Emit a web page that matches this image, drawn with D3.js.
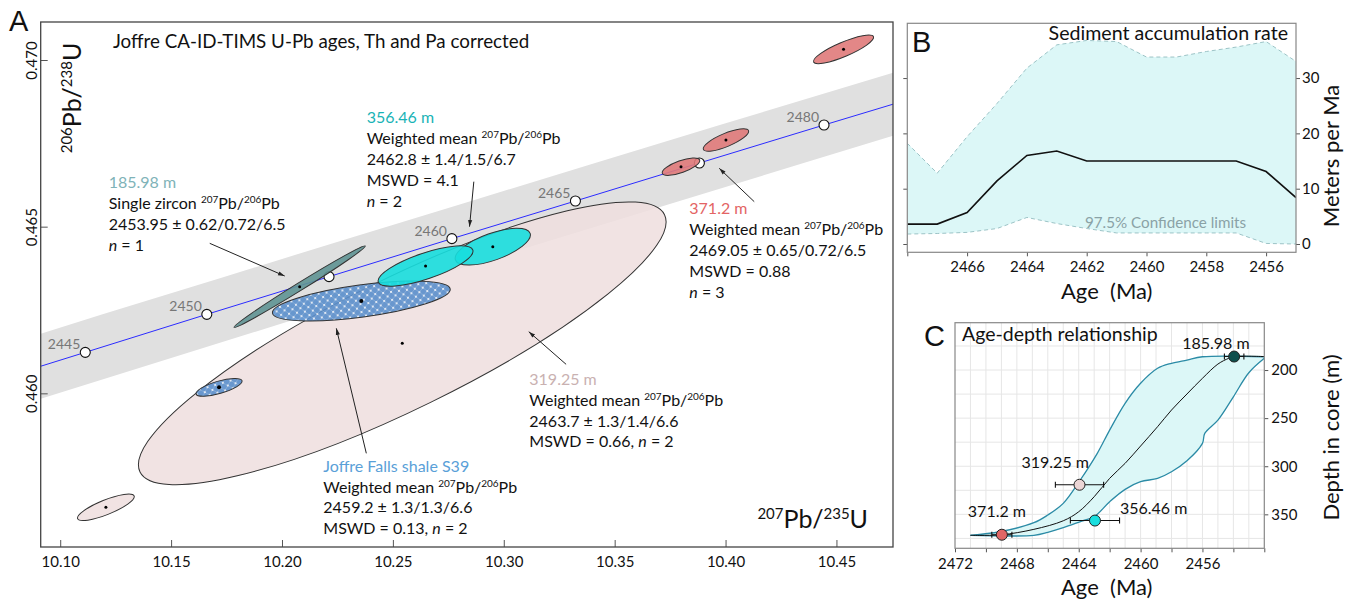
<!DOCTYPE html>
<html>
<head>
<meta charset="utf-8">
<script src="https://cdn.jsdelivr.net/npm/d3@7"></script>
<style>
body { margin: 0; background: #fff; }
svg { font-family: Lato, 'Open Sans', sans-serif; }
.tick text { font-family: Lato, 'Open Sans', sans-serif; font-size: 15px; fill: #111; }
.tick line { stroke: #555; }
.letter { font-family: 'Liberation Sans', Arial, sans-serif; font-size: 29px; fill: #111; }
</style>
</head>
<body>
<svg width="1354" height="600"></svg>
<script>
// ---------- panel A : concordia reference points ----------
var concAge = [2435, 2445, 2450, 2455, 2460, 2465, 2470, 2475, 2490];
var concX = [10.0024, 10.1113, 10.1661, 10.2212, 10.2766, 10.3323, 10.3882, 10.4444, 10.6148];
var concY = [0.45897, 0.46123, 0.46237, 0.46350, 0.46464, 0.46577, 0.46691, 0.46805, 0.47147];
var concLabel = [null, '2445', '2450', '', '2460', '2465', '', '2480', null];
var bandHalf = 0.047;

// error ellipses: centre, end of major axis, minor/major ratio
var ellSample = ['p319', 'p319', 's39', 's39', 'g186', 'c356', 'c356', 'r371', 'r371', 'r371'];
var ellCx = [10.25423, 10.12059, 10.23577, 10.17162, 10.20797, 10.29505, 10.26473, 10.37991, 10.40018, 10.45320];
var ellCy = [0.46150, 0.45658, 0.46277, 0.46018, 0.46320, 0.46440, 0.46382, 0.46680, 0.46760, 0.47032];
var ellEx = [10.37248, 10.13333, 10.27586, 10.18198, 10.23757, 10.31189, 10.28604, 10.38833, 10.41036, 10.46670];
var ellEy = [0.46536, 0.45692, 0.46313, 0.46038, 0.46442, 0.46480, 0.46430, 0.46700, 0.46788, 0.47070];
var ellRatio = [0.224, 0.24, 0.18, 0.26, 0.05, 0.34, 0.26, 0.30, 0.27, 0.22];

var xTicksA = [10.10, 10.15, 10.20, 10.25, 10.30, 10.35, 10.40, 10.45];
var yTicksA = [0.460, 0.465, 0.470];

// ---------- panel B : sediment accumulation rate ----------
var rateAge = [2468, 2467, 2466, 2465, 2464, 2463, 2462, 2461, 2460, 2459, 2458, 2457, 2456, 2455];
var rateMedian = [3.6, 3.6, 5.7, 11.4, 16.0, 16.8, 15.0, 15.0, 15.0, 15.0, 15.0, 15.0, 13.1, 8.4];
var rateUpper = [18.2, 12.8, 19.4, 25.4, 31.8, 36.0, 36.8, 36.6, 33.8, 33.8, 34.8, 35.6, 36.6, 33.0];
var rateLower = [1.8, 1.9, 2.1, 2.8, 4.8, 3.7, 2.8, 2.0, 2.0, 2.0, 2.0, 2.0, 0.1, 0.0];

// ---------- panel C : age-depth model ----------
var medAge = [2471.0, 2469.0, 2466.9, 2465.0, 2464.0, 2463.0, 2462.0, 2461.0, 2460.0, 2458.9, 2458.0, 2457.0, 2456.0, 2455.0, 2454.3, 2453.95, 2452.0];
var medDepth = [371.8, 371.2, 365.6, 356.7, 347.3, 331.7, 312.6, 297.0, 279.0, 258.9, 241.6, 224.9, 208.6, 193.8, 187.8, 186.0, 186.0];
var upAge = [2471.0, 2469.1, 2466.9, 2466.0, 2465.0, 2463.9, 2462.8, 2462.0, 2461.0, 2460.0, 2458.9, 2458.0, 2457.0, 2456.0, 2452.0];
var upDepth = [371.8, 368.1, 358.7, 350.7, 338.6, 314.3, 286.6, 262.4, 234.6, 213.8, 198.2, 193.0, 189.6, 186.2, 186.2];
var loAge = [2471.0, 2466.9, 2466.0, 2465.0, 2463.8, 2463.0, 2462.0, 2461.0, 2460.0, 2458.9, 2458.0, 2457.0, 2456.0, 2455.85, 2455.0, 2454.0, 2453.0, 2452.0];
var loDepth = [371.8, 371.8, 368.7, 363.9, 357.0, 352.5, 336.9, 324.0, 316.1, 312.6, 305.7, 294.3, 276.2, 265.8, 252.0, 227.8, 202.8, 187.8];

var sampDepth = [185.98, 319.25, 356.46, 371.2];
var sampAge = [2453.95, 2463.95, 2462.95, 2468.97];
var sampErr = [0.63, 1.56, 1.59, 0.65];
var sampLabel = ['185.98 m', '319.25 m', '356.46 m', '371.2 m'];

// ---------- styles ----------
var ellFill = {p319: '#efdede', s39: 'url(#hatch)', g186: '#5f9494', c356: '#17dede', r371: '#e07a7a'};
var sampFill = ['#0f4f4c', '#ecd5d5', '#19dede', '#e06666'];

var svg = d3.select('svg');
var defs = svg.append('defs');

var hatch = defs.append('pattern').attr('id', 'hatch')
	.attr('width', 8).attr('height', 8).attr('patternUnits', 'userSpaceOnUse');
hatch.append('rect').attr('width', 8).attr('height', 8).attr('fill', '#5a8fcc');
hatch.append('path').attr('d', 'M0,0L8,8M8,0L0,8').attr('stroke', '#93b6de').attr('stroke-width', 0.6);
[[0, 0], [8, 0], [0, 8], [8, 8], [4, 4]].forEach(function(p) {
	hatch.append('circle').attr('cx', p[0]).attr('cy', p[1]).attr('r', 1).attr('fill', '#fff');
});

defs.append('marker').attr('id', 'arrow')
	.attr('viewBox', '0 0 8 6').attr('refX', 8).attr('refY', 3)
	.attr('markerWidth', 7).attr('markerHeight', 5).attr('orient', 'auto')
	.append('path').attr('d', 'M0,0.5L8,3L0,5.5Z').attr('fill', '#222');

// rich text: ^123 = superscript, *x* = italic
function richText(sel, str, size, supSize, rise) {
	var parts = str.split(/(\^\d+|\*[^*]+\*)/).filter(function(p) { return p.length; });
	var shifted = false;
	parts.forEach(function(p) {
		var ts = sel.append('tspan');
		if (p[0] === '^') {
			ts.attr('dy', -rise).style('font-size', supSize + 'px').text(p.slice(1));
			shifted = true;
		} else {
			if (shifted) { ts.attr('dy', rise); shifted = false; }
			if (p[0] === '*') ts.style('font-style', 'italic').text(p.slice(1, -1));
			else ts.text(p);
		}
	});
	sel.style('font-size', size + 'px');
	return sel;
}

// ================= PANEL A =================
var xA = d3.scaleLinear().domain([10.0912, 10.4755]).range([40.7, 893]);
var yA = d3.scaleLinear().domain([0.45539, 0.47114]).range([547, 22]);

defs.append('clipPath').attr('id', 'clipA').append('rect')
	.attr('x', 40.7).attr('y', 22).attr('width', 852.3).attr('height', 525);

var gA = svg.append('g');
var plotA = gA.append('g').attr('clip-path', 'url(#clipA)');

var conc = concAge.map(function(a, i) {
	return {age: a, x: concX[i], y: concY[i], label: concLabel[i]};
});

// decay-constant uncertainty band
var bandPts = conc.map(function(d) { return [xA(d.x - bandHalf), yA(d.y)]; })
	.concat(conc.slice().reverse().map(function(d) { return [xA(d.x + bandHalf), yA(d.y)]; }));
plotA.append('path').attr('d', 'M' + bandPts.join('L') + 'Z').attr('fill', '#e0e0e0');

var ells = ellSample.map(function(s, i) {
	var cx = xA(ellCx[i]), cy = yA(ellCy[i]);
	var ex = xA(ellEx[i]), ey = yA(ellEy[i]);
	var a = Math.hypot(ex - cx, ey - cy);
	return {s: s, cx: cx, cy: cy, a: a, b: a * ellRatio[i],
		ang: Math.atan2(ey - cy, ex - cx) * 180 / Math.PI};
});

function drawEll(list) {
	plotA.selectAll(null).data(list).enter().append('ellipse')
		.attr('cx', function(d) { return d.cx; })
		.attr('cy', function(d) { return d.cy; })
		.attr('rx', function(d) { return d.a; })
		.attr('ry', function(d) { return d.b; })
		.attr('transform', function(d) { return 'rotate(' + d.ang + ',' + d.cx + ',' + d.cy + ')'; })
		.attr('fill', function(d) { return ellFill[d.s]; })
		.attr('fill-opacity', function(d) { return d.s === 'p319' ? 0.85 : 0.9; })
		.attr('stroke', '#333').attr('stroke-width', 1);
}

drawEll(ells.filter(function(d) { return d.s === 'p319'; }));

// concordia curve
plotA.append('path')
	.attr('d', d3.line().x(function(d) { return xA(d.x); }).y(function(d) { return yA(d.y); })(conc))
	.attr('fill', 'none').attr('stroke', '#2b2bff').attr('stroke-width', 1);

var marks = conc.filter(function(d) { return d.label !== null; });
plotA.selectAll(null).data(marks).enter().append('circle')
	.attr('cx', function(d) { return xA(d.x); })
	.attr('cy', function(d) { return yA(d.y); })
	.attr('r', 5).attr('fill', '#fff').attr('stroke', '#111').attr('stroke-width', 1.1);

drawEll(ells.filter(function(d) { return d.s !== 'p319'; }));

plotA.selectAll(null).data(ells).enter().append('circle')
	.attr('cx', function(d) { return d.cx; })
	.attr('cy', function(d) { return d.cy; })
	.attr('r', function(d) { return d.s === 's39' ? 2 : 1.5; })
	.attr('fill', '#000');

plotA.selectAll(null).data(marks.filter(function(d) { return d.label; })).enter().append('text')
	.attr('x', function(d) { return xA(d.x) - 5; })
	.attr('y', function(d) { return yA(d.y) - 3; })
	.attr('text-anchor', 'end').style('font-size', '14px').attr('fill', '#777')
	.text(function(d) { return d.label; });

// axes A
gA.append('g').attr('transform', 'translate(0,547)')
	.call(d3.axisBottom(xA).tickValues(xTicksA).tickFormat(d3.format('.2f'))
		.tickSizeInner(-7).tickSizeOuter(0).tickPadding(9))
	.call(function(g) { g.select('.domain').remove(); });

gA.append('g').attr('transform', 'translate(40.7,0)')
	.call(d3.axisLeft(yA).tickValues(yTicksA).tickFormat(d3.format('.3f'))
		.tickSizeInner(-7).tickSizeOuter(0))
	.call(function(g) { g.select('.domain').remove(); })
	.selectAll('.tick text')
	.attr('transform', 'rotate(-90)').attr('x', 0).attr('y', -4).attr('dy', 0)
	.attr('text-anchor', 'middle');

gA.append('rect').attr('x', 40.7).attr('y', 22).attr('width', 852.3).attr('height', 525)
	.attr('fill', 'none').attr('stroke', '#444').attr('stroke-width', 1.3);

gA.append('text').attr('class', 'letter').attr('x', 9).attr('y', 31).text('A');
gA.append('text').attr('x', 113).attr('y', 48).style('font-size', '18.8px').attr('fill', '#111')
	.text('Joffre CA-ID-TIMS U-Pb ages, Th and Pa corrected');

richText(gA.append('text').attr('transform', 'translate(81,98) rotate(-90)').attr('text-anchor', 'middle').attr('fill', '#111'),
	'^206Pb/^238U', 25, 15, 9);
richText(gA.append('text').attr('x', 868).attr('y', 528).attr('text-anchor', 'end').attr('fill', '#111'),
	'^207Pb/^235U', 25, 15, 9);

// annotations
var notes = [
	{x: 108.7, y: 188.3, c: '#7fb3b8', lines: ['185.98 m', 'Single zircon ^207Pb/^206Pb', '2453.95 ± 0.62/0.72/6.5', '*n* = 1']},
	{x: 366.7, y: 123.3, c: '#19b3b6', lines: ['356.46 m', 'Weighted mean ^207Pb/^206Pb', '2462.8 ± 1.4/1.5/6.7', 'MSWD = 4.1', '*n* = 2']},
	{x: 689.3, y: 214.3, c: '#e36464', lines: ['371.2 m', 'Weighted mean ^207Pb/^206Pb', '2469.05 ± 0.65/0.72/6.5', 'MSWD = 0.88', '*n* = 3']},
	{x: 529.3, y: 385, c: '#c9b1b1', lines: ['319.25 m', 'Weighted mean ^207Pb/^206Pb', '2463.7 ± 1.3/1.4/6.6', 'MSWD = 0.66, *n* = 2']},
	{x: 323.3, y: 471.7, c: '#5a9fd8', lines: ['Joffre Falls shale S39', 'Weighted mean ^207Pb/^206Pb', '2459.2 ± 1.3/1.3/6.6', 'MSWD = 0.13, *n* = 2']}
];
notes.forEach(function(n) {
	n.lines.forEach(function(l, i) {
		var t = gA.append('text').attr('x', n.x).attr('y', n.y + i * 20.8).attr('fill', i === 0 ? n.c : '#111');
		richText(t, l, 16, 10, 6);
	});
});

// arrows, in data units
var arrows = [
	[10.16743, 0.46450, 10.20122, 0.46352],
	[10.28649, 0.46635, 10.28455, 0.46500],
	[10.41293, 0.46575, 10.39716, 0.46675],
	[10.32811, 0.46087, 10.31126, 0.46185],
	[10.23802, 0.45820, 10.22450, 0.46195]
];
gA.selectAll(null).data(arrows).enter().append('line')
	.attr('x1', function(d) { return xA(d[0]); }).attr('y1', function(d) { return yA(d[1]); })
	.attr('x2', function(d) { return xA(d[2]); }).attr('y2', function(d) { return yA(d[3]); })
	.attr('stroke', '#222').attr('stroke-width', 1).attr('marker-end', 'url(#arrow)');

// ================= PANEL B =================
var xB = d3.scaleLinear().domain([2468, 2455]).range([907.3, 1296]);
var yB = d3.scaleLinear().domain([-1.5, 39.9]).range([252.3, 23.3]);
var gB = svg.append('g');
defs.append('clipPath').attr('id', 'clipB').append('rect')
	.attr('x', 907.3).attr('y', 23.3).attr('width', 388.7).attr('height', 229);
var plotB = gB.append('g').attr('clip-path', 'url(#clipB)');

var rate = rateAge.map(function(a, i) {
	return {age: a, med: rateMedian[i], up: rateUpper[i], lo: rateLower[i]};
});
plotB.append('path')
	.attr('d', d3.area().x(function(d) { return xB(d.age); })
		.y0(function(d) { return yB(d.lo); }).y1(function(d) { return yB(d.up); })(rate))
	.attr('fill', '#dcf7f7');
['up', 'lo'].forEach(function(k) {
	plotB.append('path')
		.attr('d', d3.line().x(function(d) { return xB(d.age); }).y(function(d) { return yB(d[k]); })(rate))
		.attr('fill', 'none').attr('stroke', '#9cc3c6').attr('stroke-width', 1).attr('stroke-dasharray', '4,3');
});
plotB.append('path')
	.attr('d', d3.line().x(function(d) { return xB(d.age); }).y(function(d) { return yB(d.med); })(rate))
	.attr('fill', 'none').attr('stroke', '#111').attr('stroke-width', 1.6);

gB.append('g').attr('transform', 'translate(0,252.3)')
	.call(d3.axisBottom(xB).tickValues([2468, 2466, 2464, 2462, 2460, 2458, 2456])
		.tickFormat(function(d) { return d === 2468 ? '' : d; }).tickSize(4).tickPadding(5))
	.call(function(g) { g.select('.domain').remove(); });
gB.append('g').attr('transform', 'translate(1296,0)')
	.call(d3.axisRight(yB).tickValues([0, 10, 20, 30]).tickSize(4).tickPadding(2))
	.call(function(g) { g.select('.domain').remove(); });
gB.append('g').attr('transform', 'translate(907.3,0)')
	.call(d3.axisLeft(yB).tickValues([0, 10, 20, 30]).tickSize(4).tickFormat(''))
	.call(function(g) { g.select('.domain').remove(); });
gB.append('rect').attr('x', 907.3).attr('y', 23.3).attr('width', 388.7).attr('height', 229)
	.attr('fill', 'none').attr('stroke', '#888').attr('stroke-width', 1.2);

gB.append('text').attr('class', 'letter').attr('x', 912).attr('y', 51.5).text('B');
gB.append('text').attr('x', 1288).attr('y', 39.5).attr('text-anchor', 'end')
	.style('font-size', '19.6px').attr('fill', '#111').text('Sediment accumulation rate');
gB.append('text').attr('x', 1085).attr('y', 227.5).style('font-size', '15.2px').attr('fill', '#8aa2a6')
	.text('97.5% Confidence limits');
gB.append('text').attr('x', 1106.7).attr('y', 299).attr('text-anchor', 'middle')
	.style('font-size', '22px').attr('fill', '#111').text('Age\u00a0 (Ma)');
gB.append('text').attr('transform', 'translate(1339,156) rotate(-90)').attr('text-anchor', 'middle')
	.style('font-size', '22px').attr('fill', '#111').text('Meters per Ma');

// ================= PANEL C =================
var xC = d3.scaleLinear().domain([2472, 2452]).range([955, 1264.3]);
var yC = d3.scaleLinear().domain([150.8, 385.3]).range([322.7, 548.3]);
var gC = svg.append('g');
defs.append('clipPath').attr('id', 'clipC').append('rect')
	.attr('x', 955).attr('y', 322.7).attr('width', 309.3).attr('height', 225.6);
var plotC = gC.append('g').attr('clip-path', 'url(#clipC)');

plotC.selectAll(null).data(d3.range(2471, 2452, -1)).enter().append('line')
	.attr('x1', xC).attr('x2', xC).attr('y1', 322.7).attr('y2', 548.3)
	.attr('stroke', '#e6e6e6').attr('stroke-width', 1);
plotC.selectAll(null).data([175, 200, 225, 250, 275, 300, 325, 350, 375]).enter().append('line')
	.attr('y1', yC).attr('y2', yC).attr('x1', 955).attr('x2', 1264.3)
	.attr('stroke', '#e6e6e6').attr('stroke-width', 1);

var upPts = upAge.map(function(a, i) { return [xC(a), yC(upDepth[i])]; });
var loPts = loAge.map(function(a, i) { return [xC(a), yC(loDepth[i])]; });
var medPts = medAge.map(function(a, i) { return [xC(a), yC(medDepth[i])]; });
var curve = d3.line().curve(d3.curveCatmullRom.alpha(0.5));

plotC.append('path')
	.attr('d', curve(upPts.concat(loPts.slice().reverse())) + 'Z')
	.attr('fill', '#dcf7f7');
[upPts, loPts].forEach(function(p) {
	plotC.append('path').attr('d', curve(p)).attr('fill', 'none')
		.attr('stroke', '#2b8ba6').attr('stroke-width', 1.3);
});
plotC.append('path').attr('d', curve(medPts)).attr('fill', 'none')
	.attr('stroke', '#111').attr('stroke-width', 1);

var samp = sampDepth.map(function(d, i) {
	return {depth: d, age: sampAge[i], err: sampErr[i], label: sampLabel[i], fill: sampFill[i]};
});
samp.forEach(function(d) {
	var y = yC(d.depth), x0 = xC(d.age + d.err), x1 = xC(d.age - d.err);
	gC.append('path').attr('d', 'M' + x0 + ',' + y + 'H' + x1 + 'M' + x0 + ',' + (y - 3) + 'V' + (y + 3) + 'M' + x1 + ',' + (y - 3) + 'V' + (y + 3))
		.attr('stroke', '#111').attr('stroke-width', 1.1).attr('fill', 'none');
});
gC.selectAll(null).data(samp).enter().append('circle')
	.attr('cx', function(d) { return xC(d.age); })
	.attr('cy', function(d) { return yC(d.depth); })
	.attr('r', 5.5).attr('fill', function(d) { return d.fill; })
	.attr('stroke', '#222').attr('stroke-width', 1);

var labOff = [[-52, -7.5], [-58, -17], [25, -6.5], [-34, -18]];
gC.selectAll(null).data(samp).enter().append('text')
	.attr('x', function(d, i) { return xC(d.age) + labOff[i][0]; })
	.attr('y', function(d, i) { return yC(d.depth) + labOff[i][1]; })
	.style('font-size', '16px').attr('fill', '#111')
	.text(function(d) { return d.label; });

gC.append('g').attr('transform', 'translate(0,548.3)')
	.call(d3.axisBottom(xC).tickValues(d3.range(2472, 2451, -2))
		.tickFormat(function(d) { return (2472 - d) % 4 === 0 && d > 2452 ? d : ''; })
		.tickSize(4).tickPadding(6))
	.call(function(g) { g.select('.domain').remove(); });
gC.append('g').attr('transform', 'translate(1264.3,0)')
	.call(d3.axisRight(yC).tickValues([200, 250, 300, 350]).tickSize(4).tickPadding(3))
	.call(function(g) { g.select('.domain').remove(); });
gC.append('rect').attr('x', 955).attr('y', 322.7).attr('width', 309.3).attr('height', 225.6)
	.attr('fill', 'none').attr('stroke', '#888').attr('stroke-width', 1.2);

gC.append('text').attr('class', 'letter').attr('x', 924).attr('y', 345.5).text('C');
gC.append('text').attr('x', 962).attr('y', 340.5).style('font-size', '19.5px').attr('fill', '#111')
	.text('Age-depth relationship');
gC.append('text').attr('x', 1106.7).attr('y', 595).attr('text-anchor', 'middle')
	.style('font-size', '22px').attr('fill', '#111').text('Age\u00a0 (Ma)');
gC.append('text').attr('transform', 'translate(1339,437.5) rotate(-90)').attr('text-anchor', 'middle')
	.style('font-size', '22px').attr('fill', '#111').text('Depth in core (m)');
</script>
</body>
</html>
